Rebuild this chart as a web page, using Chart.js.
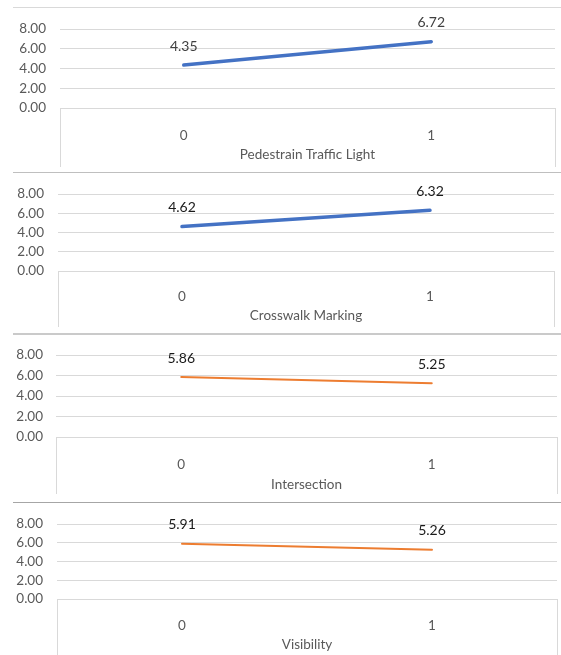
<!DOCTYPE html>
<html>
<head>
<meta charset="utf-8">
<script src="https://cdn.jsdelivr.net/npm/chart.js@4.4.1/dist/chart.umd.min.js"></script>
<style>
  html, body { margin: 0; padding: 0; background: #fff; }
  body { position: relative; width: 561px; height: 655px; overflow: hidden; }
  canvas { position: absolute; left: 0; }
  .sep { position: absolute; left: 13px; width: 548px; }
</style>
</head>
<body>
<canvas id="c0"></canvas>
<canvas id="c1"></canvas>
<canvas id="c2"></canvas>
<canvas id="c3"></canvas>
<div class="sep" style="top:7px;height:1px;background:#d9d9d9"></div>
<div class="sep" style="top:172px;height:1px;background:#bfbfbf"></div>
<div class="sep" style="top:333px;height:2px;background:#cacaca"></div>
<div class="sep" style="top:502px;height:1px;background:#a6a6a6"></div>
<script>
// Category levels on the x axis
const categories = ['0', '1'];

// Panel titles (second level of the category axis)
const panelTitles = ['Pedestrain Traffic Light', 'Crosswalk Marking', 'Intersection', 'Visibility'];

// Mean values for each factor level
const trafficLightMeans = [4.35, 6.72];
const crosswalkMeans = [4.62, 6.32];
const intersectionMeans = [5.86, 5.25];
const visibilityMeans = [5.91, 5.26];

// Value axis ticks
const yTicks = [0, 2, 4, 6, 8];

const seriesList = [trafficLightMeans, crosswalkMeans, intersectionMeans, visibilityMeans];

// Per-panel geometry and styling
const panelStyles = [
  { top: 7,   height: 165, padTop: 18, xHeight: 64, left: 60, right: 555, yPad: 14, tickPad: 12, titlePad: 9,  boxGap: 5, color: '#4472C4', width: 3.5, labelColor: '#404040' },
  { top: 172, height: 162, padTop: 19, xHeight: 63, left: 58, right: 554, yPad: 14, tickPad: 10, titlePad: 10, boxGap: 7, color: '#4472C4', width: 3.5, labelColor: '#1a1a1a' },
  { top: 334, height: 168, padTop: 19, xHeight: 65, left: 56, right: 557, yPad: 13, tickPad: 12, titlePad: 9,  boxGap: 8, color: '#ED7D31', width: 2,   labelColor: '#1a1a1a' },
  { top: 502, height: 153, padTop: 17, xHeight: 56, left: 57, right: 557, yPad: 14, tickPad: 11, titlePad: 2,  boxGap: 0, color: '#ED7D31', width: 2,   labelColor: '#1a1a1a' }
];

const FONT = 'Lato, "Open Sans", sans-serif';
const AXIS_SIZE = 13.5;

// Draws the category box (side lines below the plot) and value labels
const panelDecor = {
  id: 'panelDecor',
  afterDatasetsDraw(chart, args, opts) {
    const { ctx, chartArea } = chart;
    ctx.save();
    ctx.strokeStyle = '#d9d9d9';
    ctx.lineWidth = 1;
    ctx.beginPath();
    [chartArea.left, chartArea.right].forEach(x => {
      const px = Math.round(x) + 0.5;
      ctx.moveTo(px, chartArea.bottom);
      ctx.lineTo(px, chart.height - opts.boxGap);
    });
    ctx.stroke();

    const meta = chart.getDatasetMeta(0);
    const data = chart.data.datasets[0].data;
    ctx.fillStyle = opts.labelColor;
    ctx.font = '14px ' + FONT;
    ctx.textAlign = 'center';
    ctx.textBaseline = 'middle';
    meta.data.forEach((pt, i) => {
      ctx.fillText(data[i].toFixed(2), pt.x, pt.y - 19);
    });
    ctx.restore();
  }
};

seriesList.forEach((values, idx) => {
  const s = panelStyles[idx];
  const canvas = document.getElementById('c' + idx);
  canvas.style.top = s.top + 'px';
  canvas.width = 561;
  canvas.height = s.height;

  new Chart(canvas, {
    type: 'line',
    data: {
      labels: categories,
      datasets: [{
        data: values,
        borderColor: s.color,
        borderWidth: s.width,
        borderCapStyle: 'round',
        pointRadius: 0,
        tension: 0,
        fill: false
      }]
    },
    options: {
      responsive: false,
      animation: false,
      devicePixelRatio: 1,
      layout: { padding: { top: s.padTop, right: 561 - s.right, bottom: 0, left: 0 } },
      plugins: {
        legend: { display: false },
        tooltip: { enabled: false },
        panelDecor: { boxGap: s.boxGap, labelColor: s.labelColor }
      },
      scales: {
        x: {
          type: 'category',
          offset: true,
          grid: { display: false },
          border: { display: false },
          ticks: { padding: s.tickPad, color: '#595959', font: { family: FONT, size: AXIS_SIZE } },
          title: {
            display: true,
            text: panelTitles[idx],
            color: '#595959',
            font: { family: FONT, size: AXIS_SIZE },
            padding: { top: 0, bottom: s.titlePad }
          },
          afterFit(scale) { scale.height = s.xHeight; }
        },
        y: {
          min: yTicks[0],
          max: yTicks[yTicks.length - 1],
          grid: { color: '#d9d9d9', lineWidth: 1, drawTicks: false },
          border: { display: false },
          ticks: {
            stepSize: yTicks[1] - yTicks[0],
            autoSkip: false,
            padding: s.yPad,
            color: '#595959',
            font: { family: FONT, size: AXIS_SIZE },
            callback: v => Number(v).toFixed(2)
          },
          afterFit(scale) { scale.width = s.left; }
        }
      }
    },
    plugins: [panelDecor]
  });
});
</script>
</body>
</html>
